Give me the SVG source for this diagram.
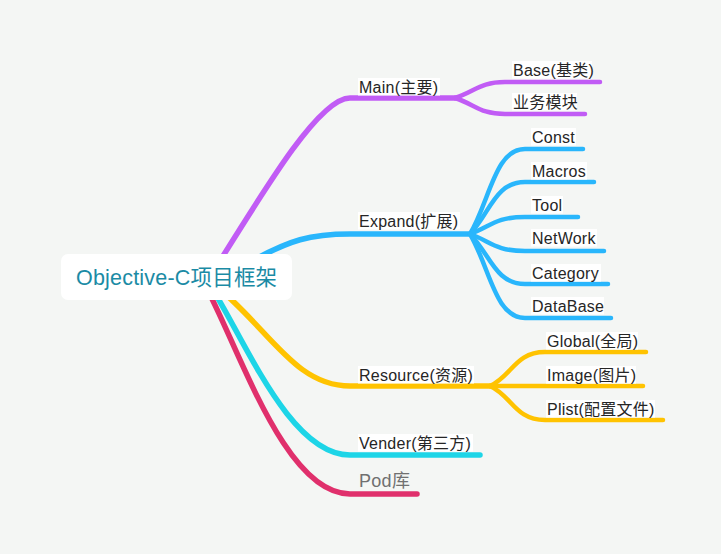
<svg xmlns="http://www.w3.org/2000/svg" width="721" height="554" viewBox="0 0 721 554">
<style>
.c{fill:none;stroke-linecap:round;stroke-linejoin:round}
.m{stroke-width:5.5}
.s{stroke-width:4.5}
.pu{stroke:#c15cf5}
.bl{stroke:#29b6fc}
.ye{stroke:#ffc300}
.cy{stroke:#1dd5e7}
.re{stroke:#e0306c}
.lb{fill:#ffffff}
.t{font-family:"Liberation Sans","Noto Sans CJK SC",sans-serif;font-size:16px;letter-spacing:0.25px;fill:#262626}
.pod{font-family:"Liberation Sans","Noto Sans CJK SC",sans-serif;font-size:18px;letter-spacing:0.3px;fill:#707070}
.root{font-family:"Liberation Sans","Noto Sans CJK SC",sans-serif;font-size:21.5px;letter-spacing:0.2px;fill:#1b8ba5}
</style>
<rect x="0" y="0" width="721" height="554" fill="#f4f6f4"/>
<g id="connectors">
<path class="c m pu" d="M205 285 C270 180 320 98 350 98 L455 98"/>
<path class="c s pu" d="M455 98 C475 91.6 480 82 505 82 L600 82"/>
<path class="c s pu" d="M455 98 C475 104.4 480 114 505 114 L585 114"/>
<path class="c m bl" d="M250 262 C290 240 310 234 350 234 L470 234"/>
<path class="c s bl" d="M470 234 C490 200 495 149 525 149 L583 149"/>
<path class="c s bl" d="M470 234 C490 213 495 182 525 182 L594 182"/>
<path class="c s bl" d="M470 234 C490 227 495 217 525 217 L578 217"/>
<path class="c s bl" d="M470 234 C490 241 495 251 525 251 L604 251"/>
<path class="c s bl" d="M470 234 C490 254 495 284 525 284 L608 284"/>
<path class="c s bl" d="M470 234 C490 268 495 318 525 318 L611 318"/>
<path class="c m ye" d="M215 285 C270 330 295 386 350 386 L490 386"/>
<path class="c s ye" d="M490 386 C512 376 515 352 545 352 L646 352"/>
<path class="c s ye" d="M490 386 L643 386"/>
<path class="c s ye" d="M490 386 C512 396 515 420 545 420 L663 420"/>
<path class="c m cy" d="M210 285 C245 340 290 455 350 455 L480 455"/>
<path class="c m re" d="M205 285 C240 350 285 494 350 494 L417 494"/>
</g>
<g id="root">
<rect x="61" y="254" width="231" height="46" rx="7" fill="#ffffff"/>
<text class="root" x="76" y="285">Objective-C项目框架</text>
</g>
<g id="main">
<rect class="lb" x="358" y="78" width="82" height="17.5"/>
<text class="t" x="359" y="93">Main(主要)</text>
</g>
<g id="base">
<rect class="lb" x="512" y="61" width="80" height="17.5"/>
<text class="t" x="513" y="76">Base(基类)</text>
</g>
<g id="yewu">
<rect class="lb" x="512" y="93" width="65" height="17.5"/>
<text class="t" x="513" y="108">业务模块</text>
</g>
<g id="expand">
<rect class="lb" x="358" y="212" width="102" height="17.5"/>
<text class="t" x="359" y="227">Expand(扩展)</text>
</g>
<g id="const">
<rect class="lb" x="531" y="128" width="45" height="17.5"/>
<text class="t" x="532" y="143">Const</text>
</g>
<g id="macros">
<rect class="lb" x="531" y="162" width="56" height="17.5"/>
<text class="t" x="532" y="177">Macros</text>
</g>
<g id="tool">
<rect class="lb" x="531" y="196" width="32" height="17.5"/>
<text class="t" x="532" y="211">Tool</text>
</g>
<g id="network">
<rect class="lb" x="531" y="229" width="66" height="17.5"/>
<text class="t" x="532" y="244">NetWork</text>
</g>
<g id="category">
<rect class="lb" x="531" y="264" width="70" height="17.5"/>
<text class="t" x="532" y="279">Category</text>
</g>
<g id="database">
<rect class="lb" x="531" y="297" width="73" height="17.5"/>
<text class="t" x="532" y="312">DataBase</text>
</g>
<g id="resource">
<rect class="lb" x="358" y="366" width="116" height="17.5"/>
<text class="t" x="359" y="381">Resource(资源)</text>
</g>
<g id="global">
<rect class="lb" x="546" y="332" width="92" height="17.5"/>
<text class="t" x="547" y="347">Global(全局)</text>
</g>
<g id="image">
<rect class="lb" x="546" y="366" width="90" height="17.5"/>
<text class="t" x="547" y="381">Image(图片)</text>
</g>
<g id="plist">
<rect class="lb" x="546" y="400" width="109" height="17.5"/>
<text class="t" x="547" y="415">Plist(配置文件)</text>
</g>
<g id="vender">
<rect class="lb" x="358" y="434" width="115" height="17.5"/>
<text class="t" x="359" y="449">Vender(第三方)</text>
</g>
<g id="pod">
<text class="pod" x="359" y="487">Pod库</text>
</g>
</svg>
